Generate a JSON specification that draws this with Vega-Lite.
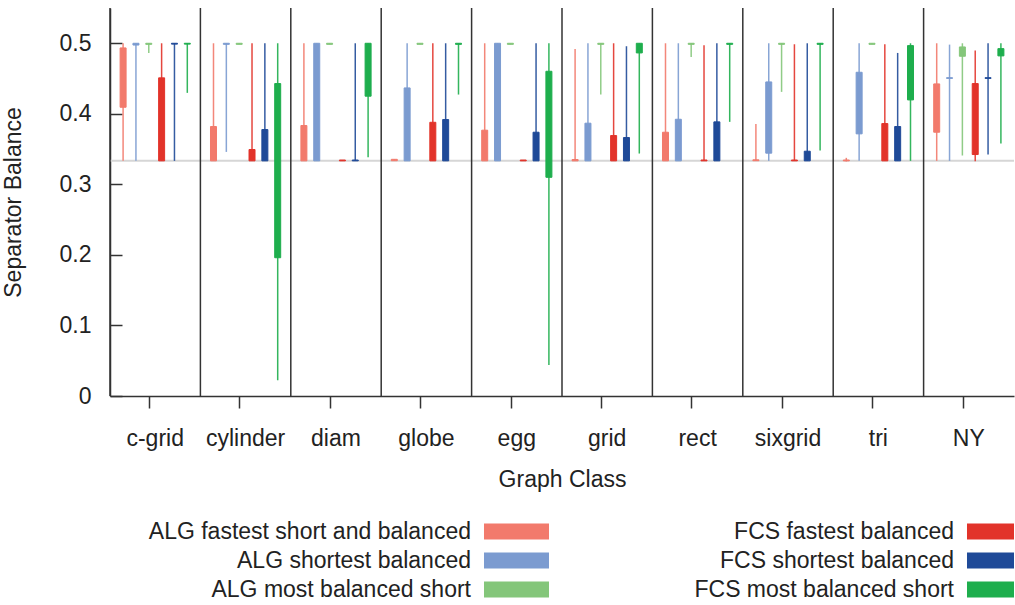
{
  "$schema": "https://vega.github.io/schema/vega-lite/v6.json",
  "padding": {"left": 2, "top": 7, "right": 0, "bottom": 0},
  "bounds": "flush",
  "spacing": 121,
  "config": {"font": "Liberation Sans", "view": {"stroke": null}},
  "datasets": {
    "groups": [
      {"group": "c-grid"}, {"group": "cylinder"}, {"group": "diam"}, {"group": "globe"}, {"group": "egg"},
      {"group": "grid"}, {"group": "rect"}, {"group": "sixgrid"}, {"group": "tri"}, {"group": "NY"}
    ],
    "reference": [{"balance": 0.33333}],
    "legend": [
      {"series": "ALG fastest short and balanced", "col": 0, "row": 0},
      {"series": "ALG shortest balanced", "col": 0, "row": 1},
      {"series": "ALG most balanced short", "col": 0, "row": 2},
      {"series": "FCS fastest balanced", "col": 1, "row": 0},
      {"series": "FCS shortest balanced", "col": 1, "row": 1},
      {"series": "FCS most balanced short", "col": 1, "row": 2}
    ],
    "boxes": [
      {"group": "c-grid", "series": "ALG fastest short and balanced", "lo": 0.3333, "q1": 0.4093, "q3": 0.4934, "hi": 0.5},
      {"group": "c-grid", "series": "ALG shortest balanced", "lo": 0.3333, "q1": 0.4975, "q3": 0.5, "hi": 0.5},
      {"group": "c-grid", "series": "ALG most balanced short", "lo": 0.4863, "q1": 0.4985, "q3": 0.5, "hi": 0.5},
      {"group": "c-grid", "series": "FCS fastest balanced", "lo": 0.3333, "q1": 0.3333, "q3": 0.451, "hi": 0.5},
      {"group": "c-grid", "series": "FCS shortest balanced", "lo": 0.3333, "q1": 0.4988, "q3": 0.5, "hi": 0.5},
      {"group": "c-grid", "series": "FCS most balanced short", "lo": 0.4297, "q1": 0.4988, "q3": 0.5, "hi": 0.5},

      {"group": "cylinder", "series": "ALG fastest short and balanced", "lo": 0.3333, "q1": 0.3333, "q3": 0.382, "hi": 0.5},
      {"group": "cylinder", "series": "ALG shortest balanced", "lo": 0.346, "q1": 0.4985, "q3": 0.5, "hi": 0.5},
      {"group": "cylinder", "series": "ALG most balanced short", "lo": 0.4985, "q1": 0.4985, "q3": 0.5, "hi": 0.5},
      {"group": "cylinder", "series": "FCS fastest balanced", "lo": 0.3333, "q1": 0.3333, "q3": 0.3494, "hi": 0.5},
      {"group": "cylinder", "series": "FCS shortest balanced", "lo": 0.3333, "q1": 0.3333, "q3": 0.3777, "hi": 0.5},
      {"group": "cylinder", "series": "FCS most balanced short", "lo": 0.0222, "q1": 0.196, "q3": 0.4429, "hi": 0.5},

      {"group": "diam", "series": "ALG fastest short and balanced", "lo": 0.3333, "q1": 0.3333, "q3": 0.3834, "hi": 0.5},
      {"group": "diam", "series": "ALG shortest balanced", "lo": 0.3333, "q1": 0.3333, "q3": 0.5, "hi": 0.5},
      {"group": "diam", "series": "ALG most balanced short", "lo": 0.4985, "q1": 0.4985, "q3": 0.5, "hi": 0.5},
      {"group": "diam", "series": "FCS fastest balanced", "lo": 0.3333, "q1": 0.3333, "q3": 0.3345, "hi": 0.3345},
      {"group": "diam", "series": "FCS shortest balanced", "lo": 0.3333, "q1": 0.3333, "q3": 0.3345, "hi": 0.5},
      {"group": "diam", "series": "FCS most balanced short", "lo": 0.3385, "q1": 0.425, "q3": 0.5, "hi": 0.5},

      {"group": "globe", "series": "ALG fastest short and balanced", "lo": 0.3335, "q1": 0.3335, "q3": 0.3355, "hi": 0.3355},
      {"group": "globe", "series": "ALG shortest balanced", "lo": 0.3333, "q1": 0.3333, "q3": 0.4367, "hi": 0.5},
      {"group": "globe", "series": "ALG most balanced short", "lo": 0.4985, "q1": 0.4985, "q3": 0.5, "hi": 0.5},
      {"group": "globe", "series": "FCS fastest balanced", "lo": 0.3333, "q1": 0.3333, "q3": 0.388, "hi": 0.5},
      {"group": "globe", "series": "FCS shortest balanced", "lo": 0.3333, "q1": 0.3333, "q3": 0.3919, "hi": 0.5},
      {"group": "globe", "series": "FCS most balanced short", "lo": 0.4273, "q1": 0.4985, "q3": 0.5, "hi": 0.5},

      {"group": "egg", "series": "ALG fastest short and balanced", "lo": 0.3333, "q1": 0.3333, "q3": 0.3768, "hi": 0.5},
      {"group": "egg", "series": "ALG shortest balanced", "lo": 0.3333, "q1": 0.3333, "q3": 0.5, "hi": 0.5},
      {"group": "egg", "series": "ALG most balanced short", "lo": 0.4985, "q1": 0.4985, "q3": 0.5, "hi": 0.5},
      {"group": "egg", "series": "FCS fastest balanced", "lo": 0.3333, "q1": 0.3333, "q3": 0.3345, "hi": 0.3345},
      {"group": "egg", "series": "FCS shortest balanced", "lo": 0.3333, "q1": 0.3333, "q3": 0.3739, "hi": 0.5},
      {"group": "egg", "series": "FCS most balanced short", "lo": 0.0439, "q1": 0.31, "q3": 0.4603, "hi": 0.5},

      {"group": "grid", "series": "ALG fastest short and balanced", "lo": 0.3333, "q1": 0.3333, "q3": 0.3352, "hi": 0.492},
      {"group": "grid", "series": "ALG shortest balanced", "lo": 0.3333, "q1": 0.3333, "q3": 0.3867, "hi": 0.5},
      {"group": "grid", "series": "ALG most balanced short", "lo": 0.4273, "q1": 0.4985, "q3": 0.5, "hi": 0.5},
      {"group": "grid", "series": "FCS fastest balanced", "lo": 0.3333, "q1": 0.3333, "q3": 0.3692, "hi": 0.5},
      {"group": "grid", "series": "FCS shortest balanced", "lo": 0.3333, "q1": 0.3333, "q3": 0.3664, "hi": 0.4958},
      {"group": "grid", "series": "FCS most balanced short", "lo": 0.3437, "q1": 0.4863, "q3": 0.5, "hi": 0.5},

      {"group": "rect", "series": "ALG fastest short and balanced", "lo": 0.3333, "q1": 0.3333, "q3": 0.3739, "hi": 0.5},
      {"group": "rect", "series": "ALG shortest balanced", "lo": 0.3333, "q1": 0.3333, "q3": 0.3923, "hi": 0.5},
      {"group": "rect", "series": "ALG most balanced short", "lo": 0.4806, "q1": 0.4985, "q3": 0.5, "hi": 0.5},
      {"group": "rect", "series": "FCS fastest balanced", "lo": 0.3333, "q1": 0.3333, "q3": 0.3345, "hi": 0.4972},
      {"group": "rect", "series": "FCS shortest balanced", "lo": 0.3333, "q1": 0.3333, "q3": 0.3886, "hi": 0.5},
      {"group": "rect", "series": "FCS most balanced short", "lo": 0.3886, "q1": 0.4985, "q3": 0.5, "hi": 0.5},

      {"group": "sixgrid", "series": "ALG fastest short and balanced", "lo": 0.3333, "q1": 0.3335, "q3": 0.3348, "hi": 0.3857},
      {"group": "sixgrid", "series": "ALG shortest balanced", "lo": 0.3333, "q1": 0.3442, "q3": 0.4452, "hi": 0.5},
      {"group": "sixgrid", "series": "ALG most balanced short", "lo": 0.4311, "q1": 0.4985, "q3": 0.5, "hi": 0.5},
      {"group": "sixgrid", "series": "FCS fastest balanced", "lo": 0.3333, "q1": 0.3333, "q3": 0.3345, "hi": 0.4986},
      {"group": "sixgrid", "series": "FCS shortest balanced", "lo": 0.3333, "q1": 0.3333, "q3": 0.347, "hi": 0.5},
      {"group": "sixgrid", "series": "FCS most balanced short", "lo": 0.348, "q1": 0.4985, "q3": 0.5, "hi": 0.5},

      {"group": "tri", "series": "ALG fastest short and balanced", "lo": 0.3325, "q1": 0.3333, "q3": 0.3345, "hi": 0.3376},
      {"group": "tri", "series": "ALG shortest balanced", "lo": 0.3333, "q1": 0.3716, "q3": 0.4589, "hi": 0.5},
      {"group": "tri", "series": "ALG most balanced short", "lo": 0.4985, "q1": 0.4985, "q3": 0.5, "hi": 0.5},
      {"group": "tri", "series": "FCS fastest balanced", "lo": 0.3333, "q1": 0.3333, "q3": 0.3862, "hi": 0.4986},
      {"group": "tri", "series": "FCS shortest balanced", "lo": 0.3333, "q1": 0.3333, "q3": 0.382, "hi": 0.4863},
      {"group": "tri", "series": "FCS most balanced short", "lo": 0.3333, "q1": 0.4197, "q3": 0.4967, "hi": 0.5},

      {"group": "NY", "series": "ALG fastest short and balanced", "lo": 0.3333, "q1": 0.3739, "q3": 0.4424, "hi": 0.5},
      {"group": "NY", "series": "ALG shortest balanced", "lo": 0.3333, "q1": 0.4502, "q3": 0.4512, "hi": 0.4981},
      {"group": "NY", "series": "ALG most balanced short", "lo": 0.3409, "q1": 0.4816, "q3": 0.4948, "hi": 0.5},
      {"group": "NY", "series": "FCS fastest balanced", "lo": 0.3329, "q1": 0.3423, "q3": 0.4429, "hi": 0.4896},
      {"group": "NY", "series": "FCS shortest balanced", "lo": 0.3423, "q1": 0.4502, "q3": 0.4512, "hi": 0.5},
      {"group": "NY", "series": "FCS most balanced short", "lo": 0.3579, "q1": 0.4821, "q3": 0.4924, "hi": 0.5}
    ]
  },
  "vconcat": [
    {
      "width": 904,
      "height": 388,
      "layer": [
        {
          "data": {"name": "reference"},
          "mark": {"type": "rule", "color": "#d6d6d6", "strokeWidth": 2},
          "encoding": {
            "y": {"field": "balance", "type": "quantitative", "scale": {"domain": [0, 0.55], "nice": false, "zero": false},
              "axis": {"title": "Separator Balance", "values": [0, 0.1, 0.2, 0.3, 0.4, 0.5], "format": ".1~f", "tickSize": -12, "tickColor": "#333", "tickWidth": 1.5, "domainColor": "#333", "domainWidth": 1.5, "labelFontSize": 23, "labelColor": "#222", "labelPadding": 31, "titleFontSize": 23, "titleFontWeight": "normal", "titleColor": "#222", "titlePadding": 34, "grid": false}}
          }
        },
        {
          "data": {"name": "groups"},
          "mark": {"type": "rule", "color": "#333", "strokeWidth": 1.5},
          "encoding": {
            "x": {"field": "group", "type": "nominal", "bandPosition": 0,
              "sort": ["c-grid", "cylinder", "diam", "globe", "egg", "grid", "rect", "sixgrid", "tri", "NY"],
              "scale": {"paddingInner": 0, "paddingOuter": 0},
              "axis": {"title": "Graph Class", "bandPosition": 0.437, "tickSize": 12, "tickColor": "#333", "tickWidth": 1.5, "domainColor": "#333", "domainWidth": 1.5, "labelAngle": 0, "labelFontSize": 23, "labelColor": "#222", "labelPadding": 19, "titleFontSize": 23, "titleFontWeight": "normal", "titleColor": "#222", "titlePadding": 18, "grid": false}}
          }
        },
        {
          "data": {"name": "boxes"},
          "mark": {"type": "rule", "strokeWidth": 1.5, "opacity": 0.9},
          "encoding": {
            "x": {"field": "group", "type": "nominal",
              "sort": ["c-grid", "cylinder", "diam", "globe", "egg", "grid", "rect", "sixgrid", "tri", "NY"],
              "scale": {"paddingInner": 0, "paddingOuter": 0},
              "axis": {"title": "Graph Class", "bandPosition": 0.437, "tickSize": 12, "tickColor": "#333", "tickWidth": 1.5, "domainColor": "#333", "domainWidth": 1.5, "labelAngle": 0, "labelFontSize": 23, "labelColor": "#222", "labelPadding": 19, "titleFontSize": 23, "titleFontWeight": "normal", "titleColor": "#222", "titlePadding": 18, "grid": false}},
            "xOffset": {"field": "series", "type": "nominal",
              "sort": ["ALG fastest short and balanced", "ALG shortest balanced", "ALG most balanced short", "FCS fastest balanced", "FCS shortest balanced", "FCS most balanced short"],
              "scale": {"paddingInner": 0, "paddingOuter": 0.52}},
            "y": {"field": "lo", "type": "quantitative", "scale": {"domain": [0, 0.55], "nice": false, "zero": false},
              "axis": {"title": "Separator Balance", "values": [0, 0.1, 0.2, 0.3, 0.4, 0.5], "format": ".1~f", "tickSize": -12, "tickColor": "#333", "tickWidth": 1.5, "domainColor": "#333", "domainWidth": 1.5, "labelFontSize": 23, "labelColor": "#222", "labelPadding": 31, "titleFontSize": 23, "titleFontWeight": "normal", "titleColor": "#222", "titlePadding": 34, "grid": false}},
            "y2": {"field": "hi"},
            "color": {"field": "series", "type": "nominal", "legend": null,
              "scale": {"domain": ["ALG fastest short and balanced", "ALG shortest balanced", "ALG most balanced short", "FCS fastest balanced", "FCS shortest balanced", "FCS most balanced short"],
                "range": ["#f27a6c", "#7b9bd0", "#84c67a", "#e2332a", "#1f4a98", "#1eae4d"]}}
          }
        },
        {
          "data": {"name": "boxes"},
          "mark": {"type": "bar", "size": 6, "strokeWidth": 1},
          "encoding": {
            "x": {"field": "group", "type": "nominal",
              "sort": ["c-grid", "cylinder", "diam", "globe", "egg", "grid", "rect", "sixgrid", "tri", "NY"],
              "scale": {"paddingInner": 0, "paddingOuter": 0},
              "axis": {"title": "Graph Class", "bandPosition": 0.437, "tickSize": 12, "tickColor": "#333", "tickWidth": 1.5, "domainColor": "#333", "domainWidth": 1.5, "labelAngle": 0, "labelFontSize": 23, "labelColor": "#222", "labelPadding": 19, "titleFontSize": 23, "titleFontWeight": "normal", "titleColor": "#222", "titlePadding": 18, "grid": false}},
            "xOffset": {"field": "series", "type": "nominal",
              "sort": ["ALG fastest short and balanced", "ALG shortest balanced", "ALG most balanced short", "FCS fastest balanced", "FCS shortest balanced", "FCS most balanced short"],
              "scale": {"paddingInner": 0, "paddingOuter": 0.52}},
            "y": {"field": "q1", "type": "quantitative", "scale": {"domain": [0, 0.55], "nice": false, "zero": false},
              "axis": {"title": "Separator Balance", "values": [0, 0.1, 0.2, 0.3, 0.4, 0.5], "format": ".1~f", "tickSize": -12, "tickColor": "#333", "tickWidth": 1.5, "domainColor": "#333", "domainWidth": 1.5, "labelFontSize": 23, "labelColor": "#222", "labelPadding": 31, "titleFontSize": 23, "titleFontWeight": "normal", "titleColor": "#222", "titlePadding": 34, "grid": false}},
            "y2": {"field": "q3"},
            "color": {"field": "series", "type": "nominal", "legend": null,
              "scale": {"domain": ["ALG fastest short and balanced", "ALG shortest balanced", "ALG most balanced short", "FCS fastest balanced", "FCS shortest balanced", "FCS most balanced short"],
                "range": ["#f27a6c", "#7b9bd0", "#84c67a", "#e2332a", "#1f4a98", "#1eae4d"]}},
            "stroke": {"field": "series", "type": "nominal", "legend": null,
              "scale": {"domain": ["ALG fastest short and balanced", "ALG shortest balanced", "ALG most balanced short", "FCS fastest balanced", "FCS shortest balanced", "FCS most balanced short"],
                "range": ["#f27a6c", "#7b9bd0", "#84c67a", "#e2332a", "#1f4a98", "#1eae4d"]}}
          }
        }
      ]
    },
    {
      "width": 904,
      "height": 87,
      "data": {"name": "legend"},
      "encoding": {
        "x": {"field": "col", "type": "quantitative", "scale": {"domain": [-0.84161, 1.03003], "nice": false, "zero": false}, "axis": null},
        "y": {"field": "row", "type": "ordinal", "scale": {"paddingInner": 0, "paddingOuter": 0}, "axis": null}
      },
      "layer": [
        {
          "mark": {"type": "point", "shape": "M-1,-0.246H1V0.246H-1Z", "size": 4225, "filled": true, "opacity": 1, "clip": true},
          "encoding": {
            "color": {"field": "series", "type": "nominal", "legend": null,
              "scale": {"domain": ["ALG fastest short and balanced", "ALG shortest balanced", "ALG most balanced short", "FCS fastest balanced", "FCS shortest balanced", "FCS most balanced short"],
                "range": ["#f27a6c", "#7b9bd0", "#84c67a", "#e2332a", "#1f4a98", "#1eae4d"]}}
          }
        },
        {
          "mark": {"type": "text", "align": "right", "baseline": "middle", "dx": -45.5, "fontSize": 23, "color": "#222"},
          "encoding": {"text": {"field": "series", "type": "nominal"}}
        }
      ]
    }
  ]
}
